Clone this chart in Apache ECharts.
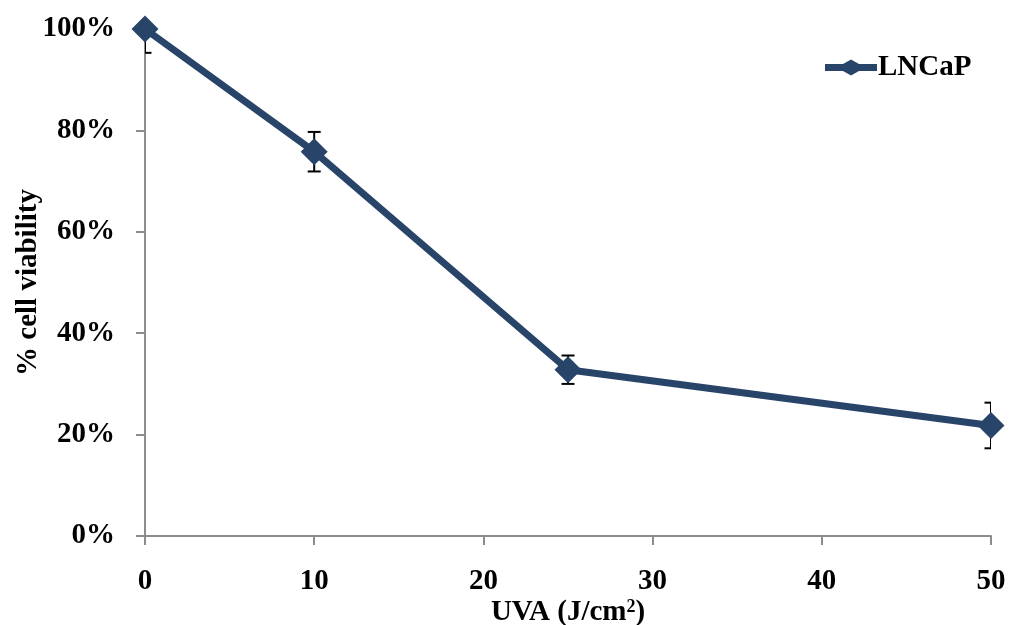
<!DOCTYPE html>
<html>
<head>
<meta charset="utf-8">
<script src="https://cdn.jsdelivr.net/npm/echarts@6/dist/echarts.min.js"></script>
<style>html,body{margin:0;padding:0;background:#fff}#c{width:1009px;height:625px}</style>
</head>
<body>
<div id="c"></div>
<script>
const doses = [0, 10, 25, 50];
const viability = [100, 75.8, 32.8, 21.8];
const errors = [4.7, 3.9, 2.8, 4.5];
const yTicks = [0, 20, 40, 60, 80, 100];
const xTicks = [0, 10, 20, 30, 40, 50];
const seriesName = 'LNCaP';

const FONT = '"Liberation Serif", "Times New Roman", serif';
const navy = '#284469';
const axisCol = '#8C8C8C';

const chart = echarts.init(document.getElementById('c'));
const errData = doses.map((d, i) => [d, viability[i] - errors[i], viability[i] + errors[i]]);

chart.setOption({
  animation: false,
  grid: { left: 145, right: 18, top: 29, bottom: 89, containLabel: false, outerBoundsMode: 'none' },
  legend: {
    data: [{ name: seriesName, icon: 'path://M0,4.5 L18,4.5 L26,0 L34,4.5 L52,4.5 L52,11.5 L34,11.5 L26,16 L18,11.5 L0,11.5 Z' }],
    left: 820, top: 48,
    itemWidth: 52, itemHeight: 16, itemGap: 6,
    textStyle: { fontFamily: FONT, fontWeight: 'bold', fontSize: 29, color: '#000', padding: [0, 0, 0, -4] }
  },
  xAxis: {
    type: 'value', min: 0, max: 50, interval: 10,
    name: 'UVA (J/cm{sup|2})',
    nameLocation: 'middle', nameGap: 62, nameMoveOverlap: false,
    nameTextStyle: {
      fontFamily: FONT, fontWeight: 'bold', fontSize: 29, color: '#000',
      rich: { sup: { fontFamily: FONT, fontWeight: 'bold', fontSize: 18, color: '#000', verticalAlign: 'top', padding: [0, 0, 12, 0] } }
    },
    axisLine: { lineStyle: { color: axisCol, width: 2 } },
    axisTick: { show: true, inside: false, length: 9, lineStyle: { color: axisCol, width: 2 } },
    axisLabel: { margin: 31, fontFamily: FONT, fontWeight: 'bold', fontSize: 29, color: '#000',
      formatter: v => xTicks.includes(v) ? String(v) : '' },
    splitLine: { show: false }
  },
  yAxis: {
    type: 'value', min: 0, max: 100, interval: 20,
    name: '% cell viability',
    nameLocation: 'middle', nameGap: 102, nameRotate: 90, nameMoveOverlap: false,
    nameTextStyle: { fontFamily: FONT, fontWeight: 'bold', fontSize: 29, color: '#000' },
    axisLine: { show: true, lineStyle: { color: axisCol, width: 2 } },
    axisTick: { show: true, inside: false, length: 9, lineStyle: { color: axisCol, width: 2 } },
    axisLabel: { margin: 30, fontFamily: FONT, fontWeight: 'bold', fontSize: 29, color: '#000',
      formatter: v => yTicks.includes(v) ? v + '%' : '' },
    splitLine: { show: false }
  },
  series: [
    {
      name: seriesName, type: 'line',
      data: doses.map((d, i) => [d, viability[i]]),
      symbol: 'diamond', symbolSize: 27,
      lineStyle: { color: navy, width: 7 },
      itemStyle: { color: navy },
      z: 3
    },
    {
      name: 'err', type: 'custom', clip: true, z: 2,
      data: errData,
      renderItem: function (params, api) {
        const x = api.value(0);
        const lo = api.coord([x, api.value(1)]);
        const hi = api.coord([x, api.value(2)]);
        const w = 6.5;
        const st = { stroke: '#000', lineWidth: 2 };
        return {
          type: 'group',
          children: [
            { type: 'line', shape: { x1: lo[0], y1: lo[1], x2: hi[0], y2: hi[1] }, style: st },
            { type: 'line', shape: { x1: lo[0] - w, y1: lo[1], x2: lo[0] + w, y2: lo[1] }, style: st },
            { type: 'line', shape: { x1: hi[0] - w, y1: hi[1], x2: hi[0] + w, y2: hi[1] }, style: st }
          ]
        };
      }
    }
  ]
});
</script>
</body>
</html>
